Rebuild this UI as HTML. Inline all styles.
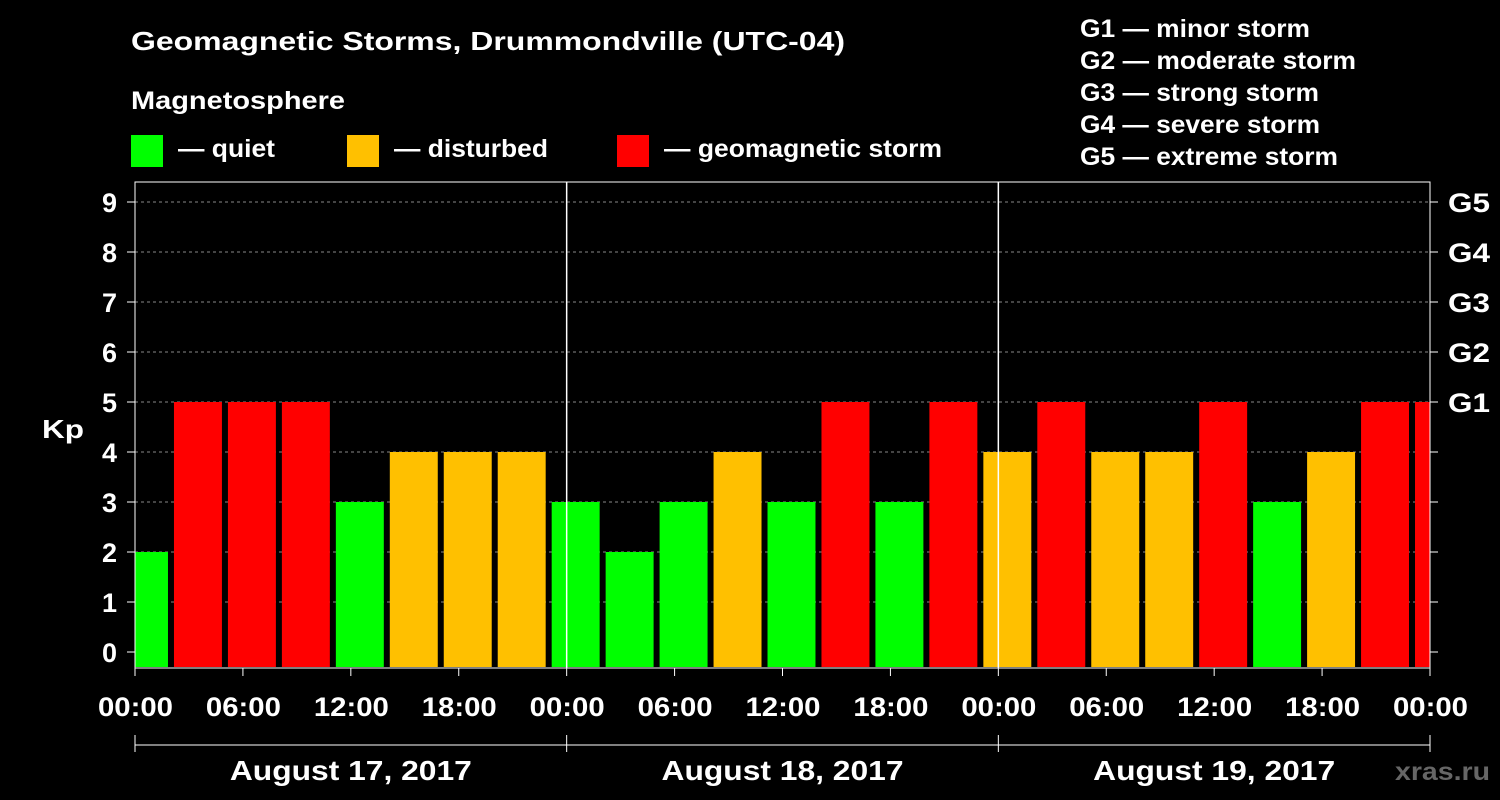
<!DOCTYPE html>
<html><head><meta charset="utf-8"><style>
html,body{margin:0;padding:0;background:#000;width:1500px;height:800px;overflow:hidden}
svg text{font-family:"Liberation Sans",Arial,sans-serif;font-weight:bold;fill:#fff}
</style></head><body>
<svg id="chart" width="1500" height="800" xmlns="http://www.w3.org/2000/svg">
<text x="131" y="50" font-size="26" textLength="714" lengthAdjust="spacingAndGlyphs">Geomagnetic Storms, Drummondville (UTC-04)</text>
<text x="131" y="109" font-size="25" textLength="214" lengthAdjust="spacingAndGlyphs">Magnetosphere</text>
<g><rect x="131" y="135" width="32" height="32" fill="#00ff00"/><text x="178" y="157" font-size="25" textLength="97" lengthAdjust="spacingAndGlyphs">— quiet</text></g>
<g><rect x="347" y="135" width="32" height="32" fill="#ffc000"/><text x="394" y="157" font-size="25" textLength="154" lengthAdjust="spacingAndGlyphs">— disturbed</text></g>
<g><rect x="617" y="135" width="32" height="32" fill="#ff0000"/><text x="664" y="157" font-size="25" textLength="278" lengthAdjust="spacingAndGlyphs">— geomagnetic storm</text></g>
<g font-size="25">
<text x="1080" y="37" textLength="230" lengthAdjust="spacingAndGlyphs">G1 — minor storm</text>
<text x="1080" y="69" textLength="276" lengthAdjust="spacingAndGlyphs">G2 — moderate storm</text>
<text x="1080" y="101" textLength="239" lengthAdjust="spacingAndGlyphs">G3 — strong storm</text>
<text x="1080" y="133" textLength="240" lengthAdjust="spacingAndGlyphs">G4 — severe storm</text>
<text x="1080" y="165" textLength="258" lengthAdjust="spacingAndGlyphs">G5 — extreme storm</text>
</g>
<text x="42" y="438" font-size="26" textLength="42" lengthAdjust="spacingAndGlyphs">Kp</text>
<text x="1395" y="780" font-size="25" textLength="95" lengthAdjust="spacingAndGlyphs" style="fill:#666">xras.ru</text>
<g id="grid"></g><g id="bars"></g><g id="axes"></g>
</svg>
<script>
const kpValues=[2,5,5,5,3,4,4,4,3,2,3,4,3,5,3,5,4,5,4,4,5,3,4,5,5];
const yTicks=[0,1,2,3,4,5,6,7,8,9];
const gLabels=["G1","G2","G3","G4","G5"];
const xTickLabels=["00:00","06:00","12:00","18:00","00:00","06:00","12:00","18:00","00:00","06:00","12:00","18:00","00:00"];
const dayLabels=["August 17, 2017","August 18, 2017","August 19, 2017"];
const firstBarStartHour=-1;
const NS="http://www.w3.org/2000/svg";
const X0=135,X1=1430,HOURS=72;
const x=h=>X0+(X1-X0)*h/HOURS;
const y=v=>652-50*v;
function mk(tag,attrs,parent,txt){const e=document.createElementNS(NS,tag);for(const k in attrs)e.setAttribute(k,attrs[k]);if(txt!=null)e.textContent=txt;parent.appendChild(e);return e;}
const grid=document.getElementById('grid'),bars=document.getElementById('bars'),axes=document.getElementById('axes');
yTicks.forEach(v=>{if(v>0){const l=mk('line',{x1:X0,x2:X1,y1:y(v),y2:y(v),stroke:'#888','stroke-dasharray':'3,3','stroke-width':1},grid);

}
const t=mk('text',{x:117,y:y(v)+10,'font-size':27,'text-anchor':'end'},axes,String(v));


mk('line',{x1:X0-8,x2:X0,y1:y(v),y2:y(v),stroke:'#fff','stroke-width':1},axes);
mk('line',{x1:X1,x2:X1+8,y1:y(v),y2:y(v),stroke:'#fff','stroke-width':1},axes);});
gLabels.forEach((g,i)=>{const t=mk('text',{x:1448,y:y(5+i)+10,'font-size':27,textLength:42,lengthAdjust:'spacingAndGlyphs'},axes,g);

});
kpValues.forEach((v,i)=>{const h0=firstBarStartHour+3*i;let a=x(h0)+3,b=x(h0+3)-3;a=Math.max(a,X0);b=Math.min(b,X1);
const c=v>=5?'#ff0000':(v>=4?'#ffc000':'#00ff00');
const r=mk('rect',{x:a,y:y(v),width:b-a,height:y(-0.3)-y(v),fill:c},bars);

});
mk('rect',{x:X0,y:182,width:X1-X0,height:486,fill:'none',stroke:'#fff','stroke-width':1},axes);
[24,48].forEach(h=>mk('line',{x1:x(h),x2:x(h),y1:182,y2:668,stroke:'#fff','stroke-width':1.5},axes));
xTickLabels.forEach((s,i)=>{const xx=x(i*6);mk('line',{x1:xx,x2:xx,y1:668,y2:676,stroke:'#fff'},axes);
const t=mk('text',{x:xx-37,y:716,'font-size':27,textLength:75,lengthAdjust:'spacingAndGlyphs'},axes,s);

});
mk('line',{x1:X0,x2:X1,y1:745,y2:745,stroke:'#fff'},axes);
[0,24,48,72].forEach(h=>mk('line',{x1:x(h),x2:x(h),y1:735,y2:752,stroke:'#fff'},axes));
dayLabels.forEach((d,i)=>{const t=mk('text',{x:x(24*i+12)-121,y:780,'font-size':28,textLength:242,lengthAdjust:'spacingAndGlyphs'},axes,d);

});
</script>
</body></html>
